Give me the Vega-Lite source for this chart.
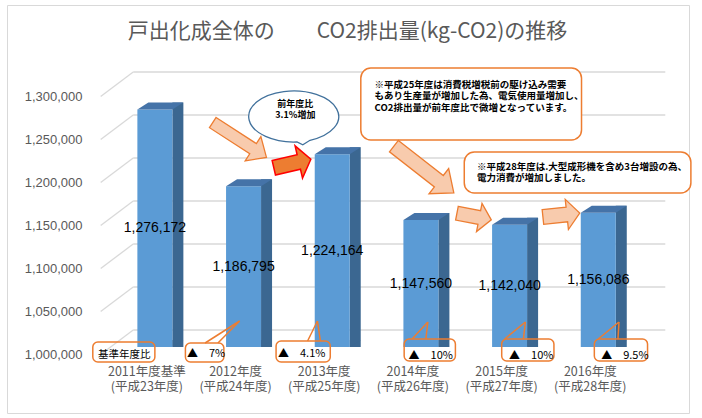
{
  "$schema": "https://vega.github.io/schema/vega-lite/v6.json",
  "width": 682,
  "height": 408,
  "autosize": {"type": "none"},
  "padding": {"left": 7, "top": 5, "right": 13, "bottom": 5},
  "background": "white",
  "config": {"view": {"stroke": "#D9D9D9", "strokeWidth": 1}, "axis": {"grid": false}},
  "data": {"values": [
    {"i": 0, "year": "2011年度基準", "era": "(平成23年度)", "value": 1276172},
    {"i": 1, "year": "2012年度", "era": "(平成24年度)", "value": 1186795},
    {"i": 2, "year": "2013年度", "era": "(平成25年度)", "value": 1224164},
    {"i": 3, "year": "2014年度", "era": "(平成26年度)", "value": 1147560},
    {"i": 4, "year": "2015年度", "era": "(平成27年度)", "value": 1142040},
    {"i": 5, "year": "2016年度", "era": "(平成28年度)", "value": 1156086}
  ]},
  "datasets": {
    "grid": [{"v": 1000000}, {"v": 1050000}, {"v": 1100000}, {"v": 1150000}, {"v": 1200000}, {"v": 1250000}, {"v": 1300000}],
    "one": [{}]
  },
  "layer": [
    {
      "data": {"name": "grid"},
      "mark": {"type": "rule", "color": "#D9D9D9", "strokeWidth": 1.3, "yOffset": -17},
      "encoding": {
        "x": {"datum": -0.2444, "type": "quantitative", "scale": {"domain": [-1.6111, 5.9667], "nice": false, "zero": false}, "axis": null},
        "x2": {"datum": 5.7556},
        "y": {"field": "v", "type": "quantitative", "title": null,
          "scale": {"domain": [923256, 1397674], "nice": false, "zero": false},
          "axis": {"title": null, "values": [1000000, 1050000, 1100000, 1150000, 1200000, 1250000, 1300000], "format": ",", "labelExpr": "format(datum.value, ',')", "ticks": false, "domain": false, "grid": false, "labelFont": "Liberation Sans", "labelFontSize": 13, "labelColor": "#595959", "labelPadding": 2, "offset": -77, "labelOffset": 7.5}}
      }
    },
    {
      "data": {"name": "grid"},
      "mark": {"type": "rule", "color": "#D9D9D9", "strokeWidth": 1.3, "yOffset": 7.5, "y2Offset": -17},
      "encoding": {
        "x": {"datum": -0.6111, "type": "quantitative", "axis": null},
        "x2": {"datum": -0.2444},
        "y": {"field": "v", "type": "quantitative", "title": null},
        "y2": {"field": "v"}
      }
    },
    {
      "mark": {"type": "bar", "width": 11, "xOffset": 23, "yOffset": -7, "color": "#3B6791"},
      "encoding": {
        "x": {"field": "i", "type": "quantitative", "axis": null},
        "y": {"field": "value", "type": "quantitative", "title": null},
        "y2": {"datum": 1000000}
      }
    },
    {
      "mark": {"type": "point", "shape": "M 0.6034 0 L 0.9828 -0.2414 L 0.6034 -0.2414 Z", "size": 3364, "filled": true, "opacity": 1, "color": "#3B6791", "strokeWidth": 0},
      "encoding": {
        "x": {"field": "i", "type": "quantitative", "axis": null},
        "y": {"datum": 1000000, "title": null}
      }
    },
    {
      "mark": {"type": "bar", "width": 35, "color": "#5B9BD5"},
      "encoding": {
        "x": {"field": "i", "type": "quantitative", "axis": null},
        "y": {"field": "value", "type": "quantitative", "title": null},
        "y2": {"datum": 1000000}
      }
    },
    {
      "mark": {"type": "point", "shape": "M -0.6034 0 L 0.6034 0 L 0.9828 -0.2414 L -0.2241 -0.2414 Z", "size": 3364, "filled": true, "opacity": 1, "color": "#4573A8", "strokeWidth": 0},
      "encoding": {
        "x": {"field": "i", "type": "quantitative", "axis": null},
        "y": {"field": "value", "type": "quantitative", "title": null}
      }
    },
    {
      "transform": [{"calculate": "(datum.value + 1000000) / 2", "as": "mid"}],
      "mark": {"type": "text", "font": "Liberation Sans", "fontSize": 14, "color": "#000000", "baseline": "middle", "align": "center"},
      "encoding": {
        "x": {"field": "i", "type": "quantitative", "axis": null},
        "y": {"field": "mid", "type": "quantitative", "title": null},
        "text": {"field": "value", "type": "quantitative", "format": ","}
      }
    },
    {
      "mark": {"type": "text", "font": "Noto Sans CJK JP", "fontSize": 12.5, "color": "#595959", "baseline": "middle", "align": "center", "dx": -8, "dy": 25},
      "encoding": {
        "x": {"field": "i", "type": "quantitative", "axis": null},
        "y": {"datum": 1000000, "title": null},
        "text": {"field": "year"}
      }
    },
    {
      "mark": {"type": "text", "font": "Noto Sans CJK JP", "fontSize": 12.5, "color": "#595959", "baseline": "middle", "align": "center", "dx": -8, "dy": 40},
      "encoding": {
        "x": {"field": "i", "type": "quantitative", "axis": null},
        "y": {"datum": 1000000, "title": null},
        "text": {"field": "era"}
      }
    },
    {
      "data": {"name": "one"},
      "mark": {"type": "text", "font": "Noto Sans CJK JP", "fontSize": 21, "color": "#595959", "baseline": "middle", "align": "center", "text": "戸出化成全体の　　CO2排出量(kg-CO2)の推移"},
      "encoding": {"x": {"datum": 2.1722, "axis": null}, "y": {"datum": 1366279, "title": null}}
    },
    {
      "data": {"name": "one"},
      "mark": {"type": "rect", "cornerRadius": 5, "stroke": "#ED7D31", "strokeWidth": 1.5, "fill": "white", "fillOpacity": 0},
      "encoding": {"x": {"datum": -0.7, "axis": null}, "x2": {"datum": 0.0}, "y": {"datum": 1005814, "title": null}, "y2": {"datum": 982558}}
    },
    {
      "data": {"name": "one"},
      "mark": {"type": "rect", "cornerRadius": 5, "stroke": "#ED7D31", "strokeWidth": 1.5, "fill": "white", "fillOpacity": 0},
      "encoding": {"x": {"datum": 0.3444, "axis": null}, "x2": {"datum": 0.7778}, "y": {"datum": 1004651, "title": null}, "y2": {"datum": 982558}}
    },
    {
      "data": {"name": "one"},
      "mark": {"type": "rect", "cornerRadius": 5, "stroke": "#ED7D31", "strokeWidth": 1.5, "fill": "white", "fillOpacity": 0},
      "encoding": {"x": {"datum": 1.3667, "axis": null}, "x2": {"datum": 1.9778}, "y": {"datum": 1006977, "title": null}, "y2": {"datum": 982558}}
    },
    {
      "data": {"name": "one"},
      "mark": {"type": "rect", "cornerRadius": 5, "stroke": "#ED7D31", "strokeWidth": 1.5, "fill": "white", "fillOpacity": 0},
      "encoding": {"x": {"datum": 2.8111, "axis": null}, "x2": {"datum": 3.3889}, "y": {"datum": 1009302, "title": null}, "y2": {"datum": 983721}}
    },
    {
      "data": {"name": "one"},
      "mark": {"type": "rect", "cornerRadius": 5, "stroke": "#ED7D31", "strokeWidth": 1.5, "fill": "white", "fillOpacity": 0},
      "encoding": {"x": {"datum": 3.9111, "axis": null}, "x2": {"datum": 4.5}, "y": {"datum": 1009302, "title": null}, "y2": {"datum": 983721}}
    },
    {
      "data": {"name": "one"},
      "mark": {"type": "rect", "cornerRadius": 5, "stroke": "#ED7D31", "strokeWidth": 1.5, "fill": "white", "fillOpacity": 0},
      "encoding": {"x": {"datum": 4.9556, "axis": null}, "x2": {"datum": 5.5556}, "y": {"datum": 1009302, "title": null}, "y2": {"datum": 983721}}
    },
    {
      "data": {"name": "one"},
      "mark": {"type": "rule", "color": "#ED7D31", "strokeWidth": 1.5},
      "encoding": {"x": {"datum": 0.5667, "axis": null}, "x2": {"datum": 0.9556}, "y": {"datum": 1004651, "title": null}, "y2": {"datum": 1030233}}
    },
    {
      "data": {"name": "one"},
      "mark": {"type": "rule", "color": "#ED7D31", "strokeWidth": 1.5},
      "encoding": {"x": {"datum": 0.9556, "axis": null}, "x2": {"datum": 0.7111}, "y": {"datum": 1030233, "title": null}, "y2": {"datum": 1004651}}
    },
    {
      "data": {"name": "one"},
      "mark": {"type": "rule", "color": "#ED7D31", "strokeWidth": 1.5},
      "encoding": {"x": {"datum": 1.7222, "axis": null}, "x2": {"datum": 1.8333}, "y": {"datum": 1006977, "title": null}, "y2": {"datum": 1030233}}
    },
    {
      "data": {"name": "one"},
      "mark": {"type": "rule", "color": "#ED7D31", "strokeWidth": 1.5},
      "encoding": {"x": {"datum": 1.8333, "axis": null}, "x2": {"datum": 1.8667}, "y": {"datum": 1030233, "title": null}, "y2": {"datum": 1006977}}
    },
    {
      "data": {"name": "one"},
      "mark": {"type": "rule", "color": "#ED7D31", "strokeWidth": 1.5},
      "encoding": {"x": {"datum": 2.9, "axis": null}, "x2": {"datum": 3.0778}, "y": {"datum": 1009302, "title": null}, "y2": {"datum": 1029070}}
    },
    {
      "data": {"name": "one"},
      "mark": {"type": "rule", "color": "#ED7D31", "strokeWidth": 1.5},
      "encoding": {"x": {"datum": 3.0778, "axis": null}, "x2": {"datum": 3.0556}, "y": {"datum": 1029070, "title": null}, "y2": {"datum": 1009302}}
    },
    {
      "data": {"name": "one"},
      "mark": {"type": "rule", "color": "#ED7D31", "strokeWidth": 1.5},
      "encoding": {"x": {"datum": 3.9444, "axis": null}, "x2": {"datum": 4.1778}, "y": {"datum": 1009302, "title": null}, "y2": {"datum": 1029070}}
    },
    {
      "data": {"name": "one"},
      "mark": {"type": "rule", "color": "#ED7D31", "strokeWidth": 1.5},
      "encoding": {"x": {"datum": 4.1778, "axis": null}, "x2": {"datum": 4.1556}, "y": {"datum": 1029070, "title": null}, "y2": {"datum": 1009302}}
    },
    {
      "data": {"name": "one"},
      "mark": {"type": "rule", "color": "#ED7D31", "strokeWidth": 1.5},
      "encoding": {"x": {"datum": 5.0, "axis": null}, "x2": {"datum": 5.2333}, "y": {"datum": 1009302, "title": null}, "y2": {"datum": 1029070}}
    },
    {
      "data": {"name": "one"},
      "mark": {"type": "rule", "color": "#ED7D31", "strokeWidth": 1.5},
      "encoding": {"x": {"datum": 5.2333, "axis": null}, "x2": {"datum": 5.2222}, "y": {"datum": 1029070, "title": null}, "y2": {"datum": 1009302}}
    },
    {
      "data": {"name": "one"},
      "mark": {"type": "text", "font": "Noto Sans CJK JP", "fontSize": 10.5, "color": "#000000", "baseline": "middle", "align": "center", "text": "基準年度比"},
      "encoding": {"x": {"datum": -0.3444, "axis": null}, "y": {"datum": 990698, "title": null}}
    },
    {
      "data": {"name": "one"},
      "mark": {"type": "text", "font": "Noto Sans CJK JP", "fontSize": 11, "color": "#000000", "baseline": "middle", "align": "center", "text": "▲　7%"},
      "encoding": {"x": {"datum": 0.5778, "axis": null}, "y": {"datum": 991860, "title": null}}
    },
    {
      "data": {"name": "one"},
      "mark": {"type": "text", "font": "Noto Sans CJK JP", "fontSize": 11, "color": "#000000", "baseline": "middle", "align": "center", "text": "▲　4.1%"},
      "encoding": {"x": {"datum": 1.6556, "axis": null}, "y": {"datum": 991860, "title": null}}
    },
    {
      "data": {"name": "one"},
      "mark": {"type": "text", "font": "Noto Sans CJK JP", "fontSize": 11, "color": "#000000", "baseline": "middle", "align": "center", "text": "▲　10%"},
      "encoding": {"x": {"datum": 3.1111, "axis": null}, "y": {"datum": 989535, "title": null}}
    },
    {
      "data": {"name": "one"},
      "mark": {"type": "text", "font": "Noto Sans CJK JP", "fontSize": 11, "color": "#000000", "baseline": "middle", "align": "center", "text": "▲　10%"},
      "encoding": {"x": {"datum": 4.2444, "axis": null}, "y": {"datum": 989535, "title": null}}
    },
    {
      "data": {"name": "one"},
      "mark": {"type": "text", "font": "Noto Sans CJK JP", "fontSize": 11, "color": "#000000", "baseline": "middle", "align": "center", "text": "▲　9.5%"},
      "encoding": {"x": {"datum": 5.3, "axis": null}, "y": {"datum": 989535, "title": null}}
    },
    {
      "data": {"name": "one"},
      "mark": {"type": "rect", "cornerRadius": 10, "stroke": "#ED7D31", "strokeWidth": 1.5, "fill": "white", "fillOpacity": 1},
      "encoding": {"x": {"datum": 2.3222, "axis": null}, "x2": {"datum": 4.8111}, "y": {"datum": 1324419, "title": null}, "y2": {"datum": 1240698}}
    },
    {
      "data": {"name": "one"},
      "mark": {"type": "text", "font": "Noto Sans CJK JP", "fontSize": 9.5, "fontWeight": "bold", "color": "#000000", "baseline": "middle", "align": "left", "text": "※平成25年度は消費税増税前の駆け込み需要"},
      "encoding": {"x": {"datum": 2.4778, "axis": null}, "y": {"datum": 1304651, "title": null}}
    },
    {
      "data": {"name": "one"},
      "mark": {"type": "text", "font": "Noto Sans CJK JP", "fontSize": 9.5, "fontWeight": "bold", "color": "#000000", "baseline": "middle", "align": "left", "text": "もあり生産量が増加した為、電気使用量増加し、"},
      "encoding": {"x": {"datum": 2.4778, "axis": null}, "y": {"datum": 1291279, "title": null}}
    },
    {
      "data": {"name": "one"},
      "mark": {"type": "text", "font": "Noto Sans CJK JP", "fontSize": 9.5, "fontWeight": "bold", "color": "#000000", "baseline": "middle", "align": "left", "text": "CO2排出量が前年度比で微増となっています。"},
      "encoding": {"x": {"datum": 2.4778, "axis": null}, "y": {"datum": 1277907, "title": null}}
    },
    {
      "data": {"name": "one"},
      "mark": {"type": "rect", "cornerRadius": 10, "stroke": "#ED7D31", "strokeWidth": 1.5, "fill": "white", "fillOpacity": 1},
      "encoding": {"x": {"datum": 3.4889, "axis": null}, "x2": {"datum": 6.0444}, "y": {"datum": 1226744, "title": null}, "y2": {"datum": 1179070}}
    },
    {
      "data": {"name": "one"},
      "mark": {"type": "text", "font": "Noto Sans CJK JP", "fontSize": 9.5, "fontWeight": "bold", "color": "#000000", "baseline": "middle", "align": "left", "text": "※平成28年度は.大型成形機を含め3台増設の為、"},
      "encoding": {"x": {"datum": 3.6333, "axis": null}, "y": {"datum": 1209302, "title": null}}
    },
    {
      "data": {"name": "one"},
      "mark": {"type": "text", "font": "Noto Sans CJK JP", "fontSize": 9.5, "fontWeight": "bold", "color": "#000000", "baseline": "middle", "align": "left", "text": "電力消費が増加しました。"},
      "encoding": {"x": {"datum": 3.6333, "axis": null}, "y": {"datum": 1196512, "title": null}}
    },
    {
      "data": {"name": "one"},
      "mark": {"type": "point", "shape": "M 0.36 0.529 A 1 0.567 0 1 0 0.07 0.566 L 0.2 0.63 Z", "size": 8100, "filled": true, "opacity": 1, "fill": "white", "stroke": "#41719C", "strokeWidth": 1.3},
      "encoding": {"x": {"datum": 1.5667, "axis": null}, "y": {"datum": 1268023, "title": null}}
    },
    {
      "data": {"name": "one"},
      "mark": {"type": "text", "font": "Noto Sans CJK JP", "fontSize": 9, "fontWeight": "bold", "color": "#000000", "baseline": "middle", "align": "center", "text": "前年度比"},
      "encoding": {"x": {"datum": 1.5833, "axis": null}, "y": {"datum": 1282209, "title": null}}
    },
    {
      "data": {"name": "one"},
      "mark": {"type": "text", "font": "Noto Sans CJK JP", "fontSize": 9, "fontWeight": "bold", "color": "#000000", "baseline": "middle", "align": "center", "text": "3.1%増加"},
      "encoding": {"x": {"datum": 1.5833, "axis": null}, "y": {"datum": 1269767, "title": null}}
    },
    {
      "data": {"name": "one"},
      "mark": {"type": "point", "shape": "M -1 -0.19 L 0.5 -0.19 L 0.5 -0.45 L 1 0 L 0.5 0.45 L 0.5 0.19 L -1 0.19 Z", "size": 4096, "angle": 33, "filled": true, "opacity": 1, "fill": "#F8CBAD", "stroke": "#ED7D31", "strokeWidth": 1.3},
      "encoding": {"x": {"datum": 0.9556, "axis": null}, "y": {"datum": 1240698, "title": null}}
    },
    {
      "data": {"name": "one"},
      "mark": {"type": "point", "shape": "M -1 -0.39 L 0.35 -0.39 L 0.35 -0.87 L 1 0 L 0.35 0.87 L 0.35 0.39 L -1 0.39 Z", "size": 1444, "angle": -13, "filled": true, "opacity": 1, "fill": "#ED7D31", "stroke": "#FF0000", "strokeWidth": 1.5},
      "encoding": {"x": {"datum": 1.55, "axis": null}, "y": {"datum": 1213372, "title": null}}
    },
    {
      "data": {"name": "one"},
      "mark": {"type": "point", "shape": "M -1 -0.19 L 0.5 -0.19 L 0.5 -0.42 L 1 0 L 0.5 0.42 L 0.5 0.19 L -1 0.19 Z", "size": 5776, "angle": 38, "filled": true, "opacity": 1, "fill": "#F8CBAD", "stroke": "#ED7D31", "strokeWidth": 1.3},
      "encoding": {"x": {"datum": 3.0333, "axis": null}, "y": {"datum": 1206395, "title": null}}
    },
    {
      "data": {"name": "one"},
      "mark": {"type": "point", "shape": "M -1 -0.4 L 0.3 -0.4 L 0.3 -0.82 L 1 0 L 0.3 0.82 L 0.3 0.4 L -1 0.4 Z", "size": 1225, "angle": 11, "filled": true, "opacity": 1, "fill": "#F8CBAD", "stroke": "#ED7D31", "strokeWidth": 1.3},
      "encoding": {"x": {"datum": 3.6, "axis": null}, "y": {"datum": 1151744, "title": null}}
    },
    {
      "data": {"name": "one"},
      "mark": {"type": "point", "shape": "M -1 -0.4 L 0.3 -0.4 L 0.3 -0.82 L 1 0 L 0.3 0.82 L 0.3 0.4 L -1 0.4 Z", "size": 1369, "angle": -6, "filled": true, "opacity": 1, "fill": "#F8CBAD", "stroke": "#ED7D31", "strokeWidth": 1.3},
      "encoding": {"x": {"datum": 4.5833, "axis": null}, "y": {"datum": 1153488, "title": null}}
    }
  ]
}
